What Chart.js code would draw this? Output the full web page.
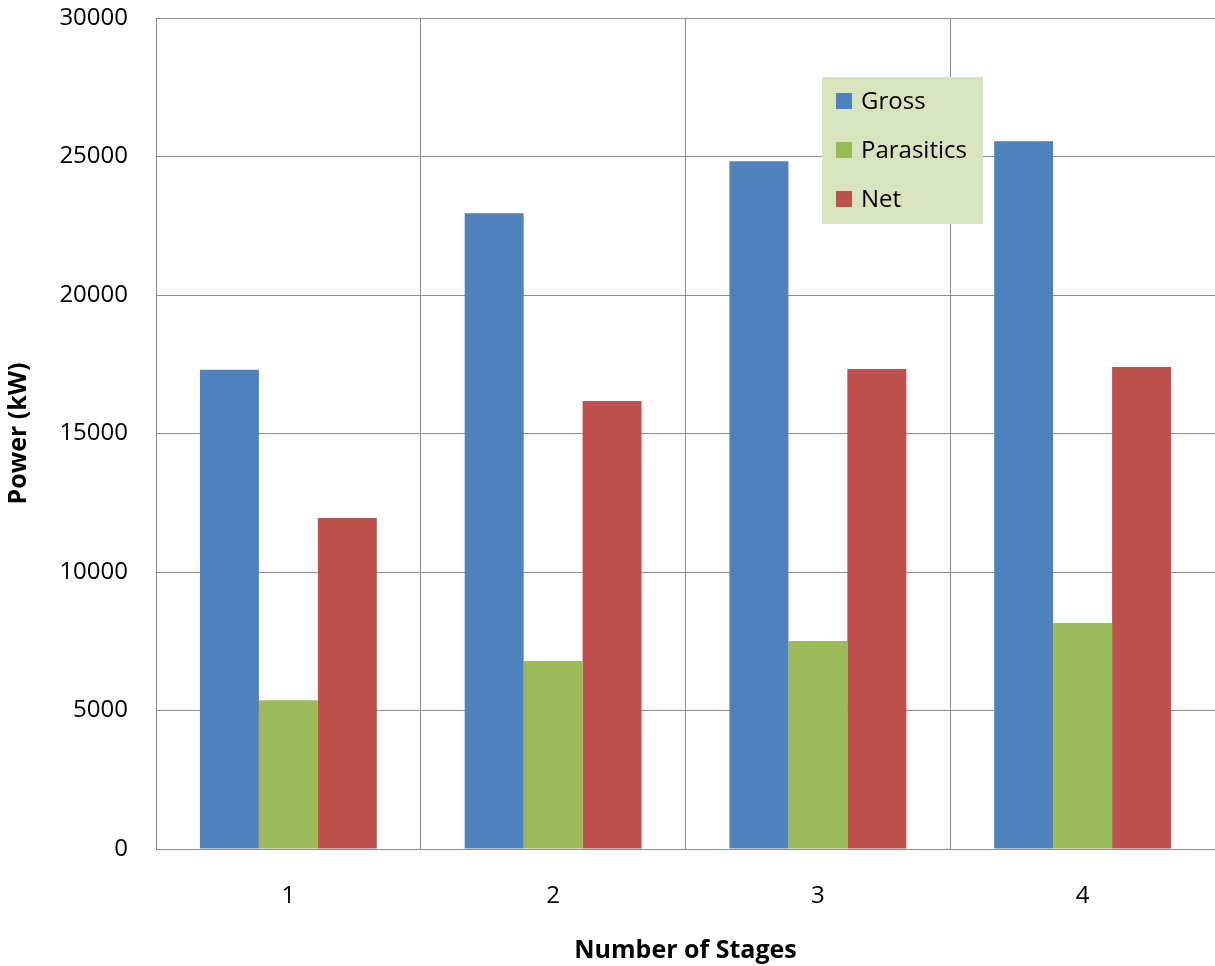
<!DOCTYPE html>
<html>
<head>
<meta charset="utf-8">
<script src="https://cdn.jsdelivr.net/npm/chart.js@4.4.1/dist/chart.umd.min.js"></script>
<style>
  html, body { margin: 0; padding: 0; background: #ffffff; }
  #wrap { width: 1215px; height: 966px; position: relative; }
</style>
</head>
<body>
<div id="wrap"><canvas id="c" width="1215" height="966"></canvas></div>
<script>
// Power output by number of stages
const stages = ['1', '2', '3', '4'];
const gross = [17300, 22950, 24830, 25550];
const parasitics = [5370, 6790, 7510, 8160];
const net = [11950, 16170, 17330, 17400];
const yTicks = [0, 5000, 10000, 15000, 20000, 25000, 30000];

const FONT = "'Open Sans', 'DejaVu Sans', sans-serif";

// Boxed legend drawn inside the plot area
const boxLegend = {
  id: 'boxLegend',
  afterDatasetsDraw(chart) {
    const ctx = chart.ctx;
    const x = 822, y = 77, w = 161, h = 147;
    ctx.save();
    ctx.fillStyle = '#d7e4bd';
    ctx.fillRect(x, y, w, h);
    ctx.font = '24px ' + FONT;
    ctx.textBaseline = 'middle';
    ctx.textAlign = 'left';
    chart.data.datasets.forEach((ds, i) => {
      const cy = 101 + i * 49;
      ctx.fillStyle = ds.backgroundColor;
      ctx.fillRect(836, cy - 8, 16, 16);
      ctx.fillStyle = '#000000';
      ctx.fillText(ds.label, 861, cy + 1);
    });
    ctx.restore();
  }
};

new Chart(document.getElementById('c'), {
  type: 'bar',
  data: {
    labels: stages,
    datasets: [
      { label: 'Gross', data: gross, backgroundColor: '#4f81bd' },
      { label: 'Parasitics', data: parasitics, backgroundColor: '#9bbb59' },
      { label: 'Net', data: net, backgroundColor: '#c0504d' }
    ]
  },
  options: {
    responsive: false,
    animation: false,
    devicePixelRatio: 1,
    layout: { padding: { top: 18, right: 0, left: 0, bottom: 0 } },
    plugins: {
      legend: { display: false },
      tooltip: { enabled: false }
    },
    datasets: {
      bar: { categoryPercentage: 0.668, barPercentage: 1.0 }
    },
    scales: {
      x: {
        grid: { color: '#8c8c8c', lineWidth: 1, offset: true, drawTicks: false },
        border: { color: '#8c8c8c' },
        ticks: { color: '#000', font: { family: FONT, size: 24 }, padding: 33 },
        title: {
          display: true, text: 'Number of Stages', color: '#000',
          font: { family: FONT, size: 25, weight: 'bold' },
          padding: { top: 18, bottom: 0 }
        },
        afterFit(scale) { scale.height = 117; }
      },
      y: {
        min: 0, max: 30000,
        afterBuildTicks(scale) { scale.ticks = yTicks.map(v => ({ value: v })); },
        grid: {
          color: '#8c8c8c', lineWidth: 1,
          drawTicks: true, tickLength: 28, tickColor: 'rgba(0,0,0,0)'
        },
        border: { color: '#8c8c8c' },
        ticks: {
          color: '#000', font: { family: FONT, size: 24 }, padding: 0,
          callback: v => String(v)
        },
        title: {
          display: true, text: 'Power (kW)', color: '#000',
          font: { family: FONT, size: 25, weight: 'bold' },
          padding: { top: 4, bottom: 0 }
        },
        afterFit(scale) { scale.width = 156; }
      }
    }
  },
  plugins: [boxLegend]
});
</script>
</body>
</html>
